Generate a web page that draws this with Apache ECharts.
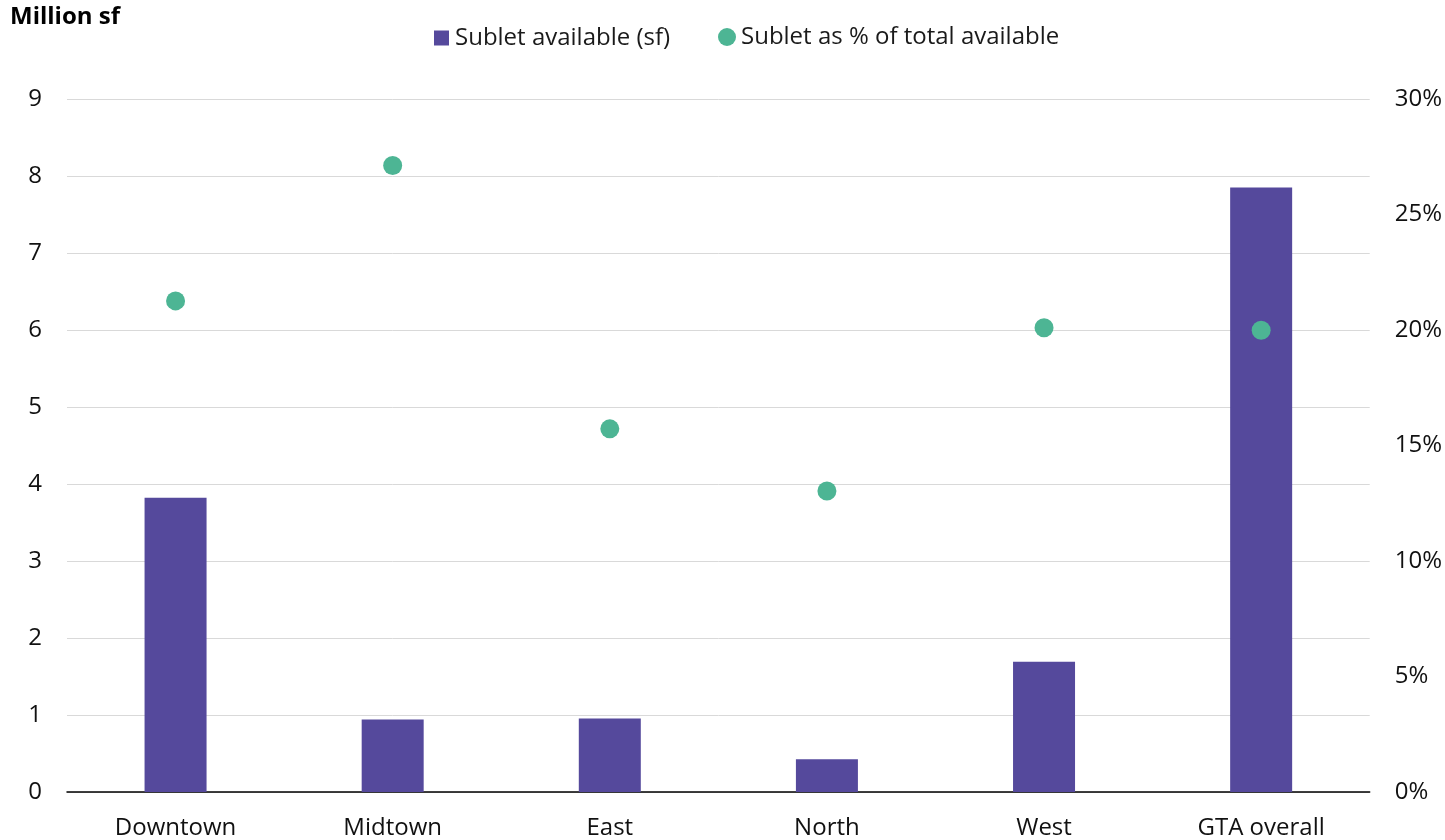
<!DOCTYPE html>
<html><head><meta charset="utf-8">
<script src="https://cdn.jsdelivr.net/npm/echarts@6/dist/echarts.min.js"></script>
<style>html,body{margin:0;padding:0;background:#fff}#c{width:1445px;height:840px}</style>
</head><body><div id="c"></div>
<script>
const categories = ['Downtown','Midtown','East','North','West','GTA overall'];
const subletSf = [3.82, 0.943, 0.956, 0.424, 1.69, 7.85];
const subletPct = [21.26, 27.12, 15.72, 13.03, 20.1, 19.99];
const leftTicks = [0,1,2,3,4,5,6,7,8,9];
const rightTicks = [0,5,10,15,20,25,30];
const FONT = '"Open Sans", sans-serif';
const chart = echarts.init(document.getElementById('c'));
chart.setOption({
  animation:false,
  textStyle:{fontFamily:FONT},
  title:{text:'Million sf',left:10,top:5,padding:0,textStyle:{fontFamily:FONT,fontWeight:'bold',fontSize:24,color:'#000'}},
  legend:[
    {top:21,left:429,itemWidth:15,itemHeight:15,
     textStyle:{fontFamily:FONT,fontSize:24,color:'#1a1a1a',padding:[0,0,0,1]},
     data:[{name:'Sublet available (sf)',icon:'rect'}]},
    {top:20,left:713,itemWidth:18,itemHeight:18,
     textStyle:{fontFamily:FONT,fontSize:24,color:'#1a1a1a',padding:[0,0,0,0]},
     data:[{name:'Sublet as % of total available',icon:'circle'}]}
  ],
  grid:{left:67,right:75,top:99,bottom:47},
  xAxis:{type:'category',data:categories,
    axisLine:{lineStyle:{color:'#000',width:1.5}},axisTick:{show:false},
    axisLabel:{fontFamily:FONT,fontSize:24,color:'#111',margin:24}},
  yAxis:[{type:'value',min:leftTicks[0],max:leftTicks[leftTicks.length-1],interval:1,
    axisLabel:{fontFamily:FONT,fontSize:24,color:'#111',margin:25},
    splitLine:{lineStyle:{color:'#d9d9d9',width:1}},axisLine:{show:false},axisTick:{show:false}},
    {type:'value',min:rightTicks[0],max:rightTicks[rightTicks.length-1],interval:5,
    axisLabel:{fontFamily:FONT,fontSize:24,color:'#111',margin:25,formatter:'{value}%'},
    splitLine:{show:false},axisLine:{show:false},axisTick:{show:false}}],
  series:[
    {name:'Sublet available (sf)',type:'bar',data:subletSf,barWidth:62,yAxisIndex:0,
     itemStyle:{color:'#55499C'}},
    {name:'Sublet as % of total available',type:'scatter',data:subletPct,yAxisIndex:1,symbolSize:19,
     itemStyle:{color:'#4DB594',opacity:1},z:5}
  ]
});
</script></body></html>
